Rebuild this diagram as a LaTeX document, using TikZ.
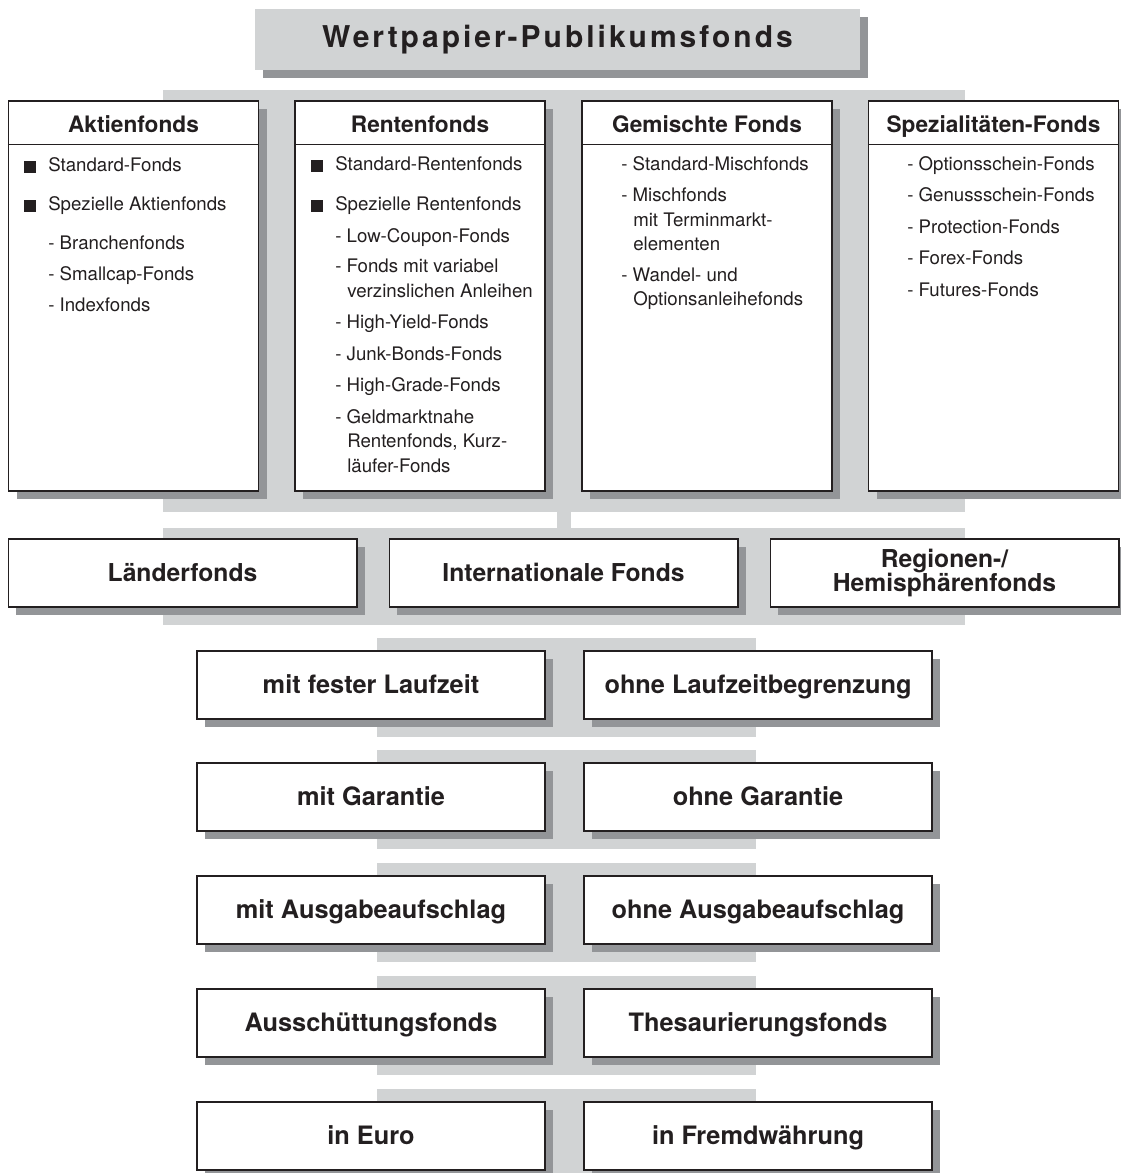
\documentclass[tikz,border=0pt]{standalone}
\usepackage{fontspec}
\setmainfont{TeX Gyre Heros}
\newfontfamily\titlefont[LetterSpace=10]{TeX Gyre Heros}
\usetikzlibrary{positioning}
\usetikzlibrary{shadows}

\definecolor{bandgrey}{HTML}{D1D3D4}
\definecolor{shadowgrey}{HTML}{939598}
\definecolor{inkblack}{HTML}{231F20}

\tikzset{
	fondsbox/.style={draw=inkblack, fill=white, line width=1pt, inner sep=0pt,
		drop shadow={shadow xshift=6pt, shadow yshift=-6pt, fill=shadowgrey, opacity=1}},
	topbox/.style={fondsbox, minimum width=187.5pt, minimum height=292.5pt},
	midbox/.style={fondsbox, minimum width=261.5pt, minimum height=51pt,
		font=\fontsize{18.5}{20}\selectfont\bfseries, text=inkblack, align=center},
	lowbox/.style={fondsbox, minimum width=261pt, minimum height=51pt,
		text height=15pt, text depth=3pt,
		font=\fontsize{19}{21}\selectfont\bfseries, text=inkblack},
	headtext/.style={text height=13.5pt, text depth=2.5pt,
		font=\fontsize{17}{19}\selectfont\bfseries, text=inkblack},
	item/.style={anchor=west, inner sep=0pt, text height=1.5ex, text depth=.25ex,
		font=\fontsize{14}{16}\selectfont, text=inkblack},
	sqbullet/.style={fill=inkblack, inner sep=0pt, minimum size=8.6pt}
}

\begin{document}
\begin{tikzpicture}[x=0.75pt,y=-0.75pt]
	\useasboundingbox (0,0) rectangle (1120,1173);
	
	% grey bands
	\fill[bandgrey] (163,90) rectangle (965,512);
	\fill[bandgrey] (557,512) rectangle (571,528);
	\fill[bandgrey] (163,528) rectangle (965,625);
	\fill[bandgrey] (377,638) rectangle (756,737);
	\fill[bandgrey] (377,750) rectangle (756,849);
	\fill[bandgrey] (377,863) rectangle (756,962);
	\fill[bandgrey] (377,976) rectangle (756,1075);
	\fill[bandgrey] (377,1089) rectangle (756,1173);
	
	% title
	\node[fill=bandgrey, minimum width=453.75pt, minimum height=45.75pt,
		drop shadow={shadow xshift=6pt, shadow yshift=-6pt, fill=shadowgrey, opacity=1},
		font=\fontsize{22.5}{24}\titlefont\bfseries, text=inkblack]
		(title) at (557.5,39.5) {Wertpapier-Publikumsfonds};
	
	% top boxes
	\node[topbox] (akt) at (133.5,296) {};
	\node[topbox] (ren) at (420,296) {};
	\node[topbox] (gem) at (707,296) {};
	\node[topbox] (spe) at (993.5,296) {};
	
	\draw[inkblack, line width=1pt] ([yshift=-33pt]akt.north west) -- ([yshift=-33pt]akt.north east);
	\draw[inkblack, line width=1pt] ([yshift=-33pt]ren.north west) -- ([yshift=-33pt]ren.north east);
	\draw[inkblack, line width=1pt] ([yshift=-33pt]gem.north west) -- ([yshift=-33pt]gem.north east);
	\draw[inkblack, line width=1pt] ([yshift=-33pt]spe.north west) -- ([yshift=-33pt]spe.north east);
	
	\node[headtext] (akt-h) at (133.5,125) {Aktienfonds};
	\node[headtext] (ren-h) at (420,125) {Rentenfonds};
	\node[headtext] (gem-h) at (707,125) {Gemischte Fonds};
	\node[headtext] (spe-h) at (993.5,125) {Spezialitäten-Fonds};
	
	% Aktienfonds
	\node[sqbullet] (akt-b1) at (30,167) {};
	\node[item]     (akt-1) at (48,167) {Standard-Fonds};
	\node[sqbullet] (akt-b2) at (30,206) {};
	\node[item]     (akt-2) at (48,206) {Spezielle Aktienfonds};
	\node[item]     (akt-3) at (48,245) {- Branchenfonds};
	\node[item]     (akt-4) at (48,276) {- Smallcap-Fonds};
	\node[item]     (akt-5) at (48,307) {- Indexfonds};
	
	% Rentenfonds
	\node[sqbullet] (ren-b1) at (317,166) {};
	\node[item]     (ren-1) at (335,166) {Standard-Rentenfonds};
	\node[sqbullet] (ren-b2) at (317,206) {};
	\node[item]     (ren-2) at (335,206) {Spezielle Rentenfonds};
	\node[item]     (ren-3) at (335,238) {- Low-Coupon-Fonds};
	\node[item]     (ren-4) at (335,268) {- Fonds mit variabel};
	\node[item]     (ren-4b) at (347,293) {verzinslichen Anleihen};
	\node[item]     (ren-5) at (335,324) {- High-Yield-Fonds};
	\node[item]     (ren-6) at (335,356) {- Junk-Bonds-Fonds};
	\node[item]     (ren-7) at (335,387) {- High-Grade-Fonds};
	\node[item]     (ren-8) at (335,419) {- Geldmarktnahe};
	\node[item]     (ren-8b) at (347,443) {Rentenfonds, Kurz-};
	\node[item]     (ren-8c) at (347,468) {läufer-Fonds};
	
	% Gemischte Fonds
	\node[item]     (gem-1) at (621,166) {- Standard-Mischfonds};
	\node[item]     (gem-2) at (621,197) {- Mischfonds};
	\node[item]     (gem-2b) at (633,222) {mit Terminmarkt-};
	\node[item]     (gem-2c) at (633,246) {elementen};
	\node[item]     (gem-3) at (621,277) {- Wandel- und};
	\node[item]     (gem-3b) at (633,301) {Optionsanleihefonds};
	
	% Spezialitaeten-Fonds
	\node[item]     (spe-1) at (907,166) {- Optionsschein-Fonds};
	\node[item]     (spe-2) at (907,197) {- Genussschein-Fonds};
	\node[item]     (spe-3) at (907,229) {- Protection-Fonds};
	\node[item]     (spe-4) at (907,260) {- Forex-Fonds};
	\node[item]     (spe-5) at (907,292) {- Futures-Fonds};
	
	% regional
	\node[midbox, text height=14.8pt, text depth=2.8pt] (laender) at (182.5,573) {Länderfonds};
	\node[midbox, text height=14.8pt, text depth=2.8pt] (intern)  at (563.5,573) {Internationale Fonds};
	\node[midbox] (region)  at (944.5,573) {Regionen-/\\[-2pt]Hemisphärenfonds};
	
	% lower pairs
	\node[lowbox] (festlz)  at (371,685) {mit fester Laufzeit};
	\node[lowbox] (offenlz) at (758,685) {ohne Laufzeitbegrenzung};
	\node[lowbox] (mitgar)  at (371,797) {mit Garantie};
	\node[lowbox] (ohnegar) at (758,797) {ohne Garantie};
	\node[lowbox] (mitaa)   at (371,910) {mit Ausgabeaufschlag};
	\node[lowbox] (ohneaa)  at (758,910) {ohne Ausgabeaufschlag};
	\node[lowbox] (aussch)  at (371,1023) {Ausschüttungsfonds};
	\node[lowbox] (thesaur) at (758,1023) {Thesaurierungsfonds};
	\node[lowbox] (euro)    at (371,1136) {in Euro};
	\node[lowbox] (fremd)   at (758,1136) {in Fremdwährung};
\end{tikzpicture}
\end{document}
